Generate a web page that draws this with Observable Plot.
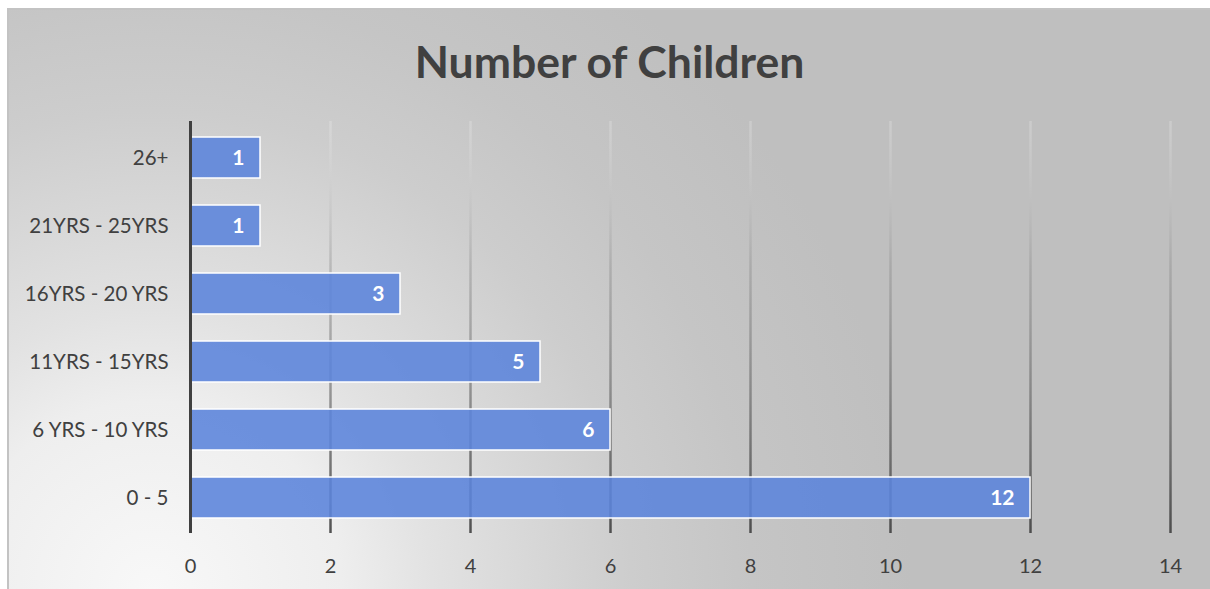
<!DOCTYPE html>
<html>
<head>
<meta charset="utf-8">
<script src="https://cdn.jsdelivr.net/npm/d3@7"></script>
<script src="https://cdn.jsdelivr.net/npm/@observablehq/plot@0.6"></script>
<style>
  html, body { margin: 0; padding: 0; background: #ffffff; }
  body { width: 1210px; height: 589px; overflow: hidden; position: relative; font-family: Lato, "Open Sans", sans-serif; }
  #chart {
    position: absolute; left: 7px; top: 8px; width: 1201px; height: 579px;
    border-left: 2px solid #c3c3c3; border-top: 2px solid #c3c3c3;
    background: radial-gradient(circle at 143px 581px, #f8f8f8 0px, #eeeeee 190px, #e2e2e2 280px, #cdcdcd 480px, #c5c5c5 600px, #bfbfbf 760px, #bfbfbf 2000px);
  }
  #title {
    height: 72px; padding-top: 26px; line-height: 50px; text-align: center;
    font-size: 44.5px; font-weight: bold; color: #404040; font-family: Lato, sans-serif;
  }
  svg { display: block; background: transparent; }
</style>
</head>
<body>
<div id="chart">
  <div id="title">Number of Children</div>
  <div id="plot"></div>
</div>
<script>
const categories = ["0 - 5", "6 YRS - 10 YRS", "11YRS - 15YRS", "16YRS - 20 YRS", "21YRS - 25YRS", "26+"];
const values = [12, 6, 5, 3, 1, 1];
const xTicks = [0, 2, 4, 6, 8, 10, 12, 14];

const data = categories.map((c, i) => ({category: c, value: values[i]}));

const W = 1201, H = 481, MT = 13, MB = 56;

const chart = Plot.plot({
  width: W,
  height: H,
  marginTop: MT,
  marginBottom: MB,
  marginLeft: 181,
  marginRight: 40,
  style: {background: "transparent", fontFamily: "Lato, sans-serif"},
  x: {domain: [0, 14], ticks: xTicks},
  y: {domain: categories.slice().reverse(), paddingInner: 0.4, paddingOuter: 0.2},
  marks: [
    Plot.ruleX(xTicks.filter(d => d > 0), {stroke: "url(#gridGrad)", strokeWidth: 2.5}),
    Plot.barX(data, {x: "value", y: "category", fill: "rgb(92,133,219)", fillOpacity: 0.89, stroke: "white", strokeWidth: 1.5}),
    Plot.text(data, {x: "value", y: "category", text: d => String(d.value), textAnchor: "end", dx: -16, fill: "white", fontWeight: "bold", fontSize: 21}),
    Plot.ruleX([0], {stroke: "#404040", strokeWidth: 3}),
    Plot.axisY({tickSize: 0, tickPadding: 22, fontSize: 20.5, color: "#404040", label: null}),
    Plot.axisX({ticks: xTicks, tickSize: 0, tickPadding: 25, fontSize: 20, color: "#404040", label: null})
  ]
});

document.getElementById("plot").appendChild(chart);

// gradient for the gridlines (light at top, dark at bottom)
const svg = d3.select(chart);
const defs = svg.insert("defs", ":first-child");
const g = defs.append("linearGradient")
  .attr("id", "gridGrad")
  .attr("gradientUnits", "userSpaceOnUse")
  .attr("x1", 0).attr("x2", 0)
  .attr("y1", MT).attr("y2", H - MB);
g.append("stop").attr("offset", "0%").attr("stop-color", "#ffffff").attr("stop-opacity", 0.2);
g.append("stop").attr("offset", "35%").attr("stop-color", "#8a8a8a").attr("stop-opacity", 0.4);
g.append("stop").attr("offset", "100%").attr("stop-color", "#404040").attr("stop-opacity", 0.9);
</script>
</body>
</html>
